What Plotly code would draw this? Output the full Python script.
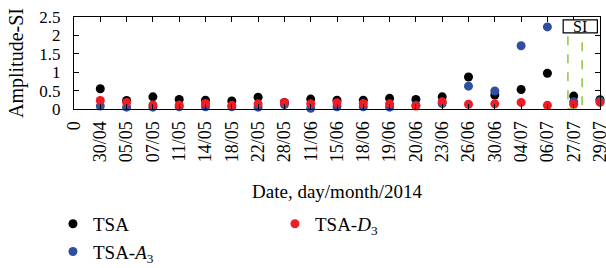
import plotly.graph_objects as go

dates = ["30/04", "05/05", "07/05", "11/05", "14/05", "18/05", "22/05", "28/05",
         "11/06", "15/06", "18/06", "19/06", "20/06", "23/06", "26/06", "30/06",
         "04/07", "06/07", "27/07", "29/07"]
tsa = [0.55, 0.23, 0.33, 0.26, 0.24, 0.22, 0.32, 0.18, 0.27, 0.24, 0.24, 0.29,
       0.26, 0.33, 0.87, 0.38, 0.53, 0.97, 0.35, 0.25]
tsa_a3 = [0.08, 0.05, 0.05, 0.06, 0.06, 0.06, 0.05, 0.12, 0.02, 0.06, 0.06, 0.05,
          0.10, 0.15, 0.62, 0.49, 1.72, 2.23, 0.20, 0.22]
tsa_d3 = [0.23, 0.18, 0.11, 0.11, 0.15, 0.10, 0.14, 0.18, 0.14, 0.17, 0.15, 0.14,
          0.08, 0.20, 0.13, 0.14, 0.18, 0.10, 0.13, 0.18]
y_ticks = [0, 0.5, 1, 1.5, 2, 2.5]
y_tick_labels = ["0", "0.5", "1", "1.5", "2", "2.5"]

xpos = list(range(1, len(dates) + 1))
font = "Liberation Serif"

fig = go.Figure()
fig.add_trace(go.Scatter(x=xpos, y=tsa, mode="markers", name="TSA",
                         marker=dict(color="black", size=9), cliponaxis=False,
                         legendrank=1))
fig.add_trace(go.Scatter(x=xpos, y=tsa_a3, mode="markers", name="TSA-<i>A</i><sub>3</sub>",
                         marker=dict(color="#2f4fa0", size=9), cliponaxis=False,
                         legendrank=3))
fig.add_trace(go.Scatter(x=xpos, y=tsa_d3, mode="markers", name="TSA-<i>D</i><sub>3</sub>",
                         marker=dict(color="#ee1c25", size=9), cliponaxis=False,
                         legendrank=2))

# SI annotation box and dashed region
fig.add_shape(type="rect", xref="x", yref="y", x0=18.78, x1=19.32, y0=0, y1=2.07,
              line=dict(color="#8dc63f", width=1.5, dash="dash"), layer="above")
fig.add_shape(type="rect", xref="x", yref="y", x0=18.6, x1=19.9, y0=2.07, y1=2.42,
              line=dict(color="black", width=1.2), fillcolor="white", layer="above")
fig.add_annotation(x=19.25, y=2.245, xref="x", yref="y", text="SI", showarrow=False,
                   font=dict(family=font, size=16, color="black"))

fig.update_layout(
    width=606, height=268,
    margin=dict(l=74, r=6, t=17, b=159, autoexpand=False),
    plot_bgcolor="white", paper_bgcolor="white",
    font=dict(family=font, size=18, color="black"),
    showlegend=True,
    legend=dict(orientation="h", x=-0.04, xanchor="left",
                y=-1.043, yanchor="top",
                entrywidth=177, entrywidthmode="pixels",
                font=dict(family=font, size=19), bgcolor="rgba(0,0,0,0)",
                itemwidth=30),
)
fig.update_xaxes(
    range=[0, 20], tickvals=[0] + xpos, ticktext=["0"] + dates, tickangle=-90,
    showgrid=False, zeroline=False, showline=True, linecolor="black", linewidth=1,
    mirror="ticks", ticks="inside", ticklen=5, tickcolor="black",
    tickfont=dict(family=font, size=18), ticklabelstandoff=4, automargin=False,
    ticklabeloverflow="allow",
    title=dict(text="Date, day/month/2014", font=dict(family=font, size=19), standoff=23),
)
fig.update_yaxes(
    range=[0, 2.5], tickvals=y_ticks, ticktext=y_tick_labels,
    showgrid=False, zeroline=False, showline=True, linecolor="black", linewidth=1,
    mirror="ticks", ticks="inside", ticklen=5, tickcolor="black",
    tickfont=dict(family=font, size=17), ticklabelstandoff=9, automargin=False,
    title=dict(text="Amplitude-SI", font=dict(family=font, size=20), standoff=10),
)

fig.write_html("out.html", config={"displayModeBar": False},
               post_script="document.body.style.margin='0';")
